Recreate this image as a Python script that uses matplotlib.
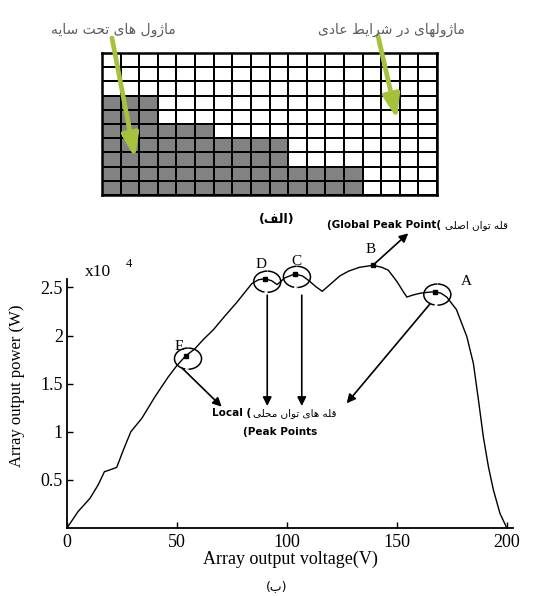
import matplotlib
matplotlib.use("Agg")
import matplotlib.pyplot as plt
import numpy as np
from matplotlib.patches import Arc, FancyArrowPatch
from matplotlib.colors import ListedColormap
from matplotlib import font_manager, ft2font

# ---------------- data ----------------
# shaded (partially shaded) modules per row of the 18x10 array, top row first
n_cols = 18
shaded_per_row = [0, 0, 0, 3, 3, 6, 10, 10, 14, 14]

# P-V curve of the array (voltage in V, power in units of 1e4 W)
voltage = [0, 5, 10.5, 14.2, 17, 19, 22.6, 25.6, 29, 34, 40, 46, 50, 54, 58, 62,
           66.5, 72, 77, 84, 87, 90, 93, 95.5, 99, 103.5, 107, 110, 113, 116,
           120, 124, 128, 133, 139, 143, 146, 150, 153, 154.5, 157, 160.5, 164,
           167.3, 170, 172.6, 177, 181.7, 184.7, 187, 189.2, 191.5, 193.8,
           196.8, 199.9]
power = [0, 0.17, 0.31, 0.45, 0.585, 0.60, 0.63, 0.81, 1.00, 1.14, 1.365, 1.57,
         1.69, 1.79, 1.86, 1.96, 2.06, 2.21, 2.34, 2.54, 2.58, 2.59, 2.57, 2.53,
         2.60, 2.64, 2.62, 2.57, 2.51, 2.46, 2.54, 2.62, 2.67, 2.71, 2.73, 2.71,
         2.68, 2.56, 2.45, 2.40, 2.42, 2.44, 2.45, 2.456, 2.44, 2.40, 2.27, 1.99,
         1.71, 1.33, 0.95, 0.64, 0.395, 0.15, 0.0]

peak_labels = ["A", "B", "C", "D", "E"]
peak_v = [167.3, 139, 103.5, 90, 54]
peak_p = [2.456, 2.73, 2.64, 2.59, 1.79]
local_peaks = ["A", "C", "D", "E"]

x_ticks = [0, 50, 100, 150, 200]
y_ticks = [0.5, 1, 1.5, 2, 2.5]
y_ticklabels = ["0.5", "1", "1.5", "2", "2.5"]

txt_shaded = "ماژول های تحت سایه"
txt_normal = "ماژولهای در شرایط عادی"
txt_cap_a = "الف"
txt_cap_b = "ب"
txt_global_fa = "قله توان اصلی"
txt_local_fa = "قله های توان محلی"
xlabel = "Array output voltage(V)"
ylabel = "Array output power (W)"

# ---------------- minimal Persian shaping (presentation forms, visual order) -------
AR_FORMS = {
    '\u0627': ('\uFE8D', '\uFE8E', None, None),
    '\u0628': ('\uFE8F', '\uFE90', '\uFE91', '\uFE92'),
    '\u062A': ('\uFE95', '\uFE96', '\uFE97', '\uFE98'),
    '\u062D': ('\uFEA1', '\uFEA2', '\uFEA3', '\uFEA4'),
    '\u062F': ('\uFEA9', '\uFEAA', None, None),
    '\u0631': ('\uFEAD', '\uFEAE', None, None),
    '\u0632': ('\uFEAF', '\uFEB0', None, None),
    '\u0698': ('\uFB8A', '\uFB8B', None, None),
    '\u0633': ('\uFEB1', '\uFEB2', '\uFEB3', '\uFEB4'),
    '\u0634': ('\uFEB5', '\uFEB6', '\uFEB7', '\uFEB8'),
    '\u0635': ('\uFEB9', '\uFEBA', '\uFEBB', '\uFEBC'),
    '\u0637': ('\uFEC1', '\uFEC2', '\uFEC3', '\uFEC4'),
    '\u0639': ('\uFEC9', '\uFECA', '\uFECB', '\uFECC'),
    '\u0641': ('\uFED1', '\uFED2', '\uFED3', '\uFED4'),
    '\u0642': ('\uFED5', '\uFED6', '\uFED7', '\uFED8'),
    '\u0644': ('\uFEDD', '\uFEDE', '\uFEDF', '\uFEE0'),
    '\u0645': ('\uFEE1', '\uFEE2', '\uFEE3', '\uFEE4'),
    '\u0646': ('\uFEE5', '\uFEE6', '\uFEE7', '\uFEE8'),
    '\u0647': ('\uFEE9', '\uFEEA', '\uFEEB', '\uFEEC'),
    '\u0648': ('\uFEED', '\uFEEE', None, None),
    '\u06CC': ('\uFBFC', '\uFBFD', '\uFBFE', '\uFBFF'),
}
try:
    _ft = ft2font.FT2Font(font_manager.findfont("DejaVu Sans"))
    def _has(ch):
        return _ft.get_char_index(ord(ch)) != 0
    if not _has('\uFBFC'):
        AR_FORMS['\u06CC'] = ('\uFEEF', '\uFEF0', '\uFEF3', '\uFEF4')
except Exception:
    pass


def fa(s):
    out = []
    for i, c in enumerate(s):
        f = AR_FORMS.get(c)
        if f is None:
            out.append(c)
            continue
        pf = AR_FORMS.get(s[i - 1]) if i > 0 else None
        nf = AR_FORMS.get(s[i + 1]) if i + 1 < len(s) else None
        jp = pf is not None and pf[2] is not None
        jn = f[2] is not None and nf is not None
        if jp and jn:
            out.append(f[3])
        elif jp:
            out.append(f[1])
        elif jn:
            out.append(f[2])
        else:
            out.append(f[0])
    return "".join(out)[::-1]


# ---------------- figure ----------------
W, H = 537, 596
fig = plt.figure(figsize=(W / 100, H / 100), dpi=100)
fig.patch.set_facecolor("white")


def P(x, y):
    return (x / W, 1 - y / H)


FA_FONT = ["DejaVu Sans"]
SERIF = ["Liberation Serif", "DejaVu Serif"]

# ---------- top: module array ----------
axg = fig.add_axes([102 / W, 1 - 195 / H, (437 - 102) / W, (195 - 53) / H])
grid = np.zeros((len(shaded_per_row), n_cols))
for r, n in enumerate(shaded_per_row):
    grid[r, :n] = 1
axg.pcolormesh(np.arange(n_cols + 1), np.arange(len(shaded_per_row) + 1), grid,
               cmap=ListedColormap(["white", "#828282"]), vmin=0, vmax=1,
               edgecolors="black", linewidth=1.3)
axg.set_xlim(0, n_cols)
axg.set_ylim(len(shaded_per_row), 0)
axg.set_xticks([])
axg.set_yticks([])
for s in axg.spines.values():
    s.set_linewidth(1.8)

green = "#a6c23c"
for (x0, y0), (x1, y1) in [((112, 38), (135, 158)), ((378, 36), (397, 119))]:
    fig.add_artist(FancyArrowPatch(P(x0, y0), P(x1, y1), transform=fig.transFigure,
                                   arrowstyle="-|>,head_length=0.7,head_width=0.25",
                                   mutation_scale=20, lw=3.4,
                                   color=green, shrinkA=0, shrinkB=0))

fig.text(*P(113, 30), fa(txt_shaded), family=FA_FONT, fontsize=10, color="#5c5c5c",
         ha="center", va="center")
fig.text(*P(391, 30), fa(txt_normal), family=FA_FONT, fontsize=10, color="#5c5c5c",
         ha="center", va="center")
fig.text(*P(277, 219), "(" + fa(txt_cap_a) + ")", family=FA_FONT, fontsize=9,
         fontweight="bold", ha="center", va="center")

# global peak text
fig.text(*P(441, 225), "(Global Peak Point(", family=FA_FONT, fontsize=7.5,
         fontweight="bold", ha="right", va="center")
fig.text(*P(445, 225), fa(txt_global_fa), family=FA_FONT, fontsize=7.5,
         ha="left", va="center")

# ---------- bottom: P-V curve ----------
ax = fig.add_axes([67 / W, 1 - 528 / H, (513 - 67) / W, (528 - 279) / H])
ax.plot(voltage, power, color="black", lw=1.0, clip_on=False)
ax.set_xlim(0, 202.7)
ax.set_ylim(0, 2.588)
ax.spines["top"].set_visible(False)
ax.spines["right"].set_visible(False)
ax.spines["left"].set_linewidth(1.3)
ax.spines["bottom"].set_linewidth(1.3)
ax.set_xticks(x_ticks)
ax.set_xticklabels([str(t) for t in x_ticks])
ax.set_yticks(y_ticks)
ax.set_yticklabels(y_ticklabels)
ax.tick_params(direction="in", length=4, width=1, labelsize=13)
ax.tick_params(axis="x", pad=4)
ax.tick_params(axis="y", pad=3)
for lab in ax.get_xticklabels() + ax.get_yticklabels():
    lab.set_family(SERIF)
ax.set_xlabel(xlabel, family=SERIF, fontsize=13, labelpad=0)
fig.text(*P(17, 386), ylabel, family=SERIF, fontsize=12, rotation=90,
         ha="center", va="center")
fig.text(*P(85, 272), "x10", family=SERIF, fontsize=12.5, ha="left", va="center")
fig.text(*P(126, 264), "4", family=SERIF, fontsize=9, ha="left", va="center")

# peak markers, labels and bracket arcs
label_off = {"A": (14, 0.11), "B": (-1, 0.16), "C": (1, 0.13), "D": (-2, 0.15),
             "E": (-3, 0.10)}
for lab, v, p in zip(peak_labels, peak_v, peak_p):
    ax.plot([v], [p], marker="s", ms=3.5, color="black", clip_on=False)
    dx, dy = label_off[lab]
    ax.text(v + dx, p + dy, lab, family=SERIF, fontsize=11, ha="center",
            va="center", clip_on=False)
    if lab in local_peaks:
        for t1, t2 in [(125, 185), (225, 305), (340, 45)]:
            ax.add_patch(Arc((v + 1.0, p - 0.03), 12.3, 0.22, theta1=t1,
                             theta2=t2, lw=1.1, color="black", clip_on=False))

arrow_kw = dict(arrowstyle="-|>", mutation_scale=13, lw=1.2, color="black",
                shrinkA=0, shrinkB=0)
# global peak arrow
ax.annotate("", xy=(155.1, 3.063), xytext=(139, 2.73), arrowprops=arrow_kw,
            annotation_clip=False)
# local peak arrows
for start, end in [((91.0, 2.42), (91.0, 1.268)),
                   ((106.7, 2.42), (106.7, 1.268)),
                   ((52.4, 1.66), (70.3, 1.261)),
                   ((165.0, 2.33), (127.1, 1.296))]:
    ax.annotate("", xy=end, xytext=start, arrowprops=arrow_kw,
                annotation_clip=False)

fig.text(*P(251, 413), "Local (", family=FA_FONT, fontsize=7.5,
         fontweight="bold", ha="right", va="center")
fig.text(*P(253, 413), fa(txt_local_fa), family=FA_FONT, fontsize=7.5,
         ha="left", va="center")
fig.text(*P(280, 432), "(Peak Points", family=FA_FONT, fontsize=7.5,
         fontweight="bold", ha="center", va="center")

fig.text(*P(277, 587), "(" + fa(txt_cap_b) + ")", family=FA_FONT, fontsize=9,
         ha="center", va="center")

fig.savefig("out.png", dpi=100, facecolor="white")
